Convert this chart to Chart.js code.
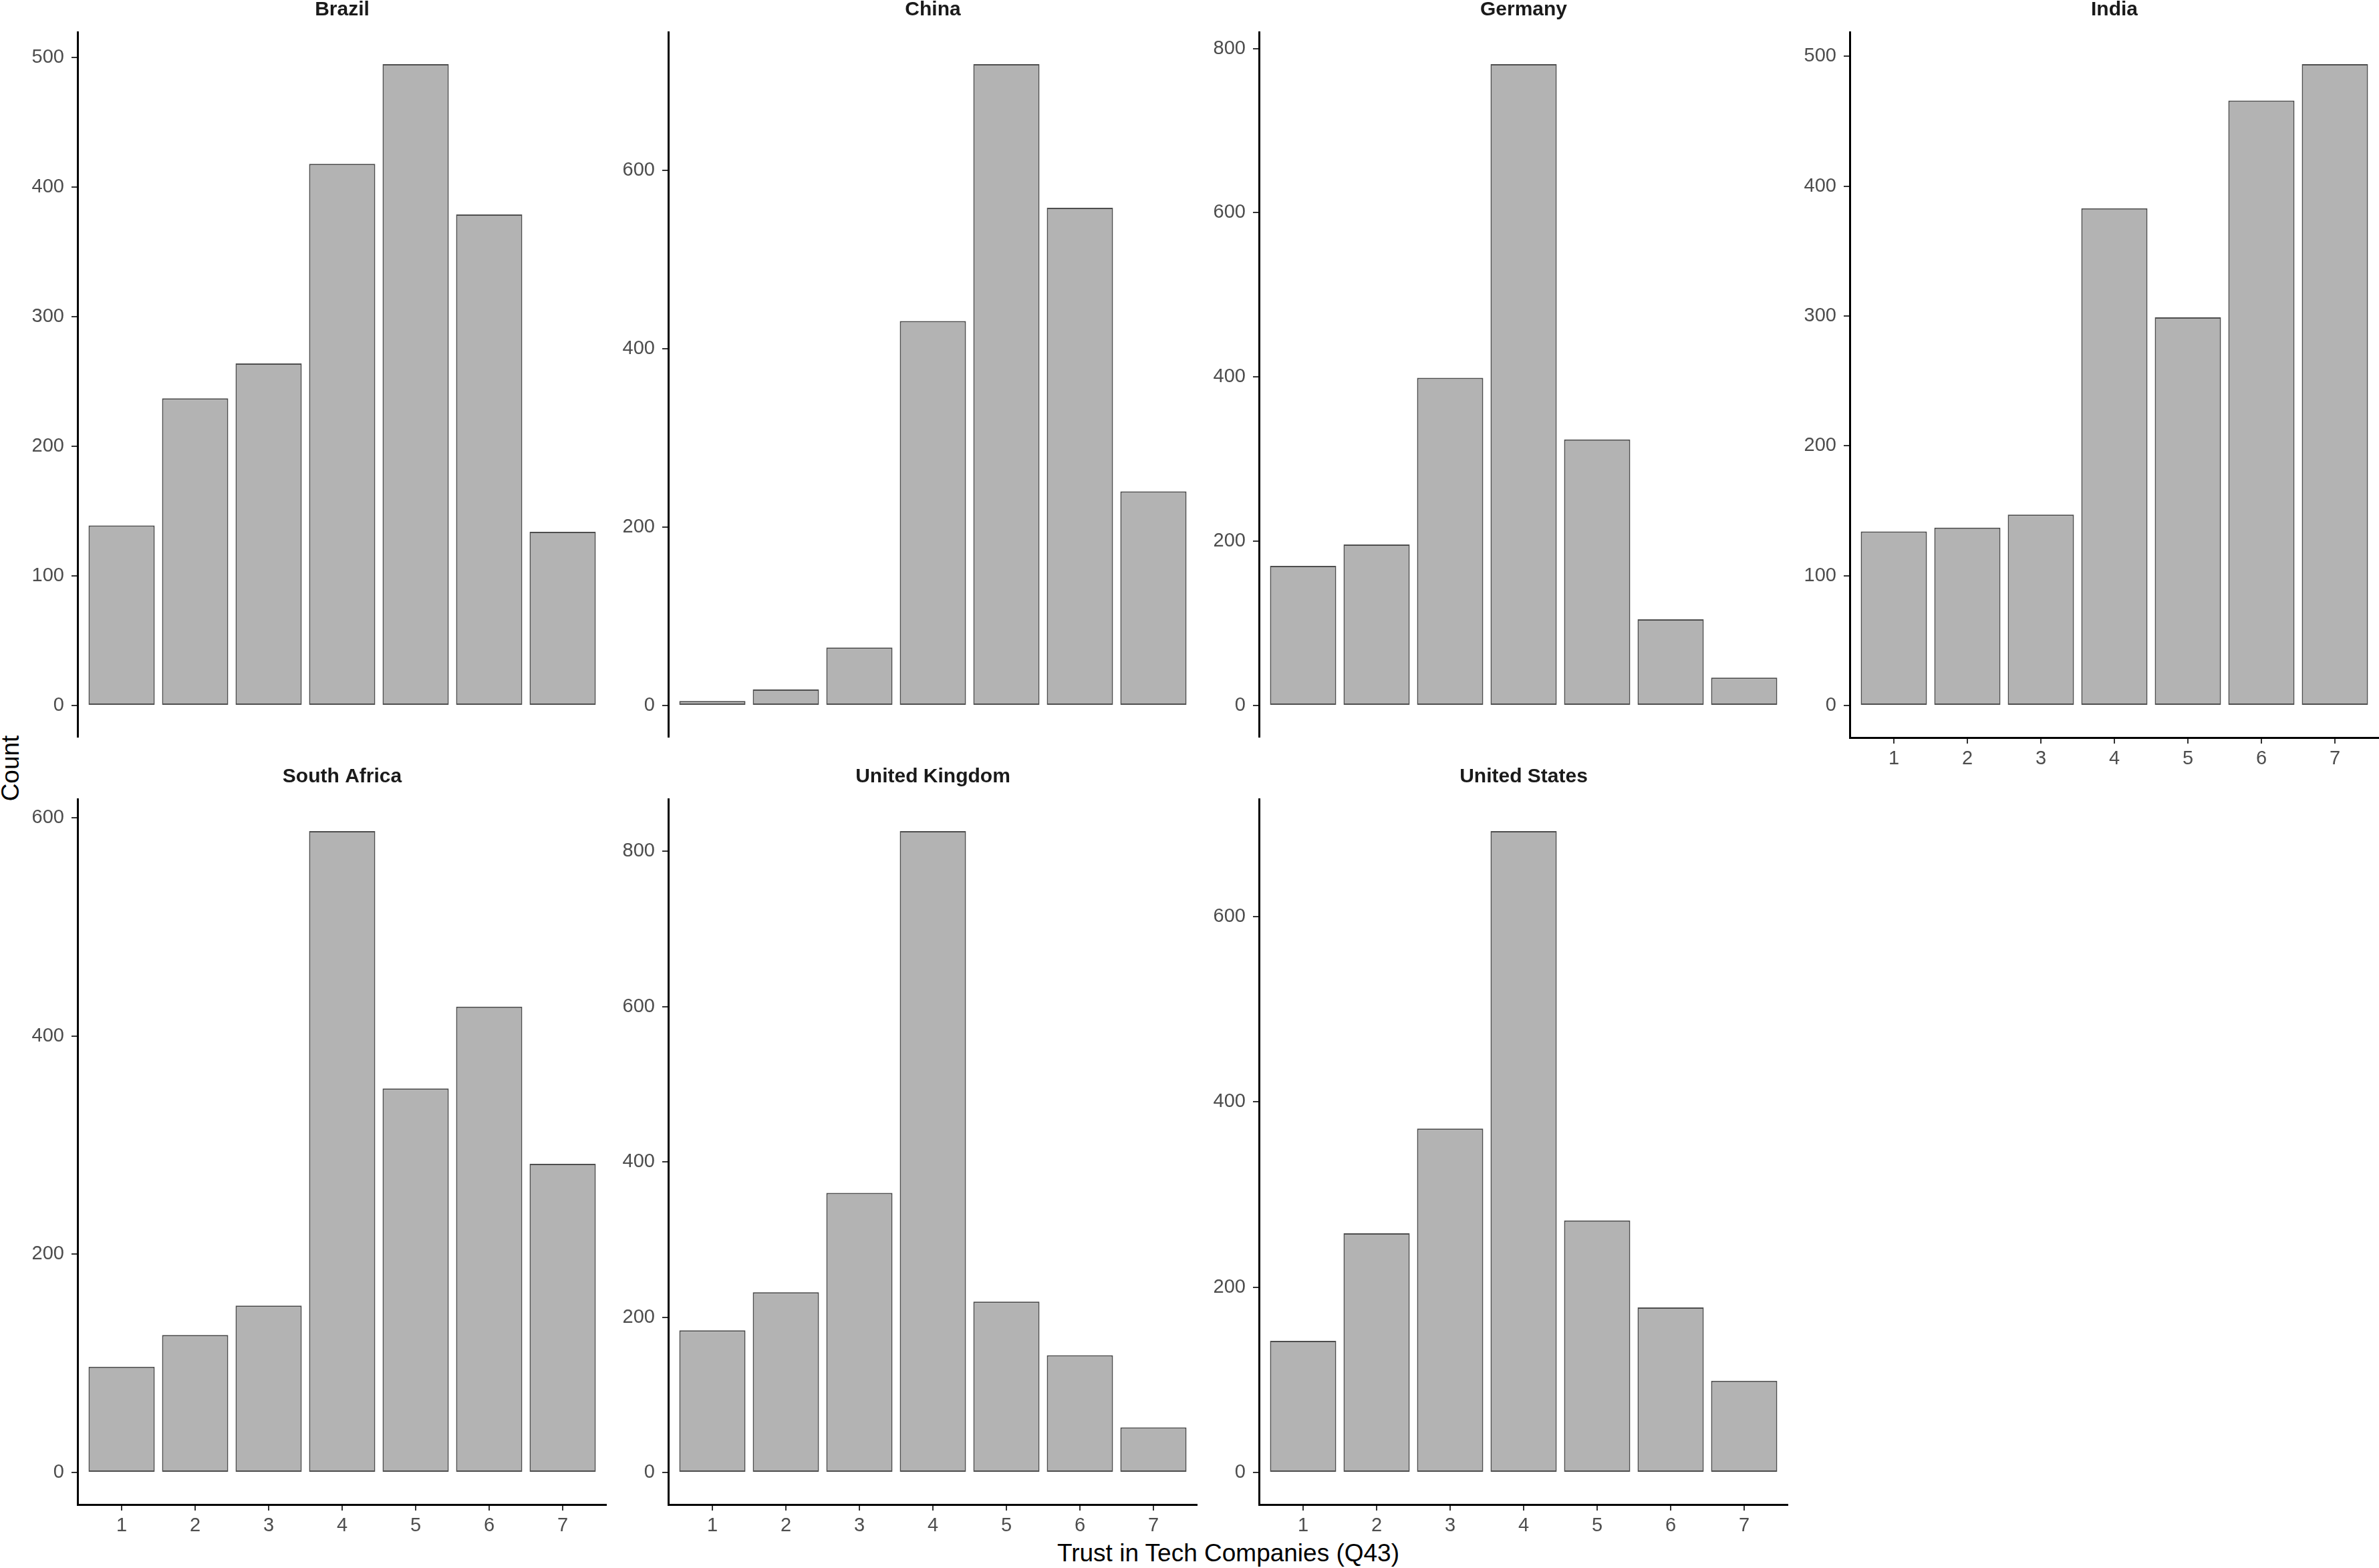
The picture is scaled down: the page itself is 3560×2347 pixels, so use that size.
<!DOCTYPE html>
<html>
<head>
<meta charset="utf-8">
<style>
  html, body { margin: 0; padding: 0; background: #fff; }
  #page { position: relative; width: 3560px; height: 2347px; overflow: hidden; background: #fff; }
  canvas { position: absolute; }
  .axis-title { position: absolute; font-family: "Liberation Sans", Arial, sans-serif; font-size: 37px; line-height: 37px; color: #000; white-space: nowrap; }
</style>
</head>
<body>
<div id="page">
  <div class="axis-title" style="left:1838px; top:2306px; transform: translateX(-50%);">Trust in Tech Companies (Q43)</div>
  <div class="axis-title" style="left:15px; top:1150px; transform: translate(-50%, -50%) rotate(-90deg);">Count</div>
</div>
<script src="https://cdn.jsdelivr.net/npm/chart.js"></script>
<script>
  const categories = ['1', '2', '3', '4', '5', '6', '7']
  const countries = ['Brazil', 'China', 'Germany', 'India', 'South Africa', 'United Kingdom', 'United States']

  const brazil = [139, 237, 264, 418, 495, 379, 134]
  const china = [5, 18, 65, 431, 719, 558, 240]
  const germany = [170, 196, 399, 781, 324, 105, 34]
  const india = [134, 137, 147, 383, 299, 466, 494]
  const southAfrica = [97, 126, 153, 588, 352, 427, 283]
  const unitedKingdom = [183, 232, 360, 826, 220, 151, 58]
  const unitedStates = [142, 258, 371, 692, 272, 178, 99]

  // y tick labels per panel
  const brazilTicks = [0, 100, 200, 300, 400, 500]
  const chinaTicks = [0, 200, 400, 600]
  const germanyTicks = [0, 200, 400, 600, 800]
  const indiaTicks = [0, 100, 200, 300, 400, 500]
  const southAfricaTicks = [0, 200, 400, 600]
  const unitedKingdomTicks = [0, 200, 400, 600, 800]
  const unitedStatesTicks = [0, 200, 400, 600]

  const series = [brazil, china, germany, india, southAfrica, unitedKingdom, unitedStates]
  const yTicks = [brazilTicks, chinaTicks, germanyTicks, indiaTicks, southAfricaTicks, unitedKingdomTicks, unitedStatesTicks]

  // facet grid geometry (px)
  const colLeft = [116, 1000, 1884, 2768]
  const rowTop = [48, 1196]
  const panelW = 792
  const panelH = 1056
  const yAxisW = 110
  const titleH = 48
  const xAxisH = 60

  const font = '"Liberation Sans", Arial, sans-serif'
  const page = document.getElementById('page')

  countries.forEach((name, i) => {
    const col = i % 4
    const row = Math.floor(i / 4)
    // x axis only at the bottom of each column
    const showX = row === 1 || col === 3
    const values = series[i]
    const top = Math.max(...values)

    const canvas = document.createElement('canvas')
    canvas.width = yAxisW + panelW
    canvas.height = titleH + panelH + (showX ? xAxisH : 0)
    canvas.style.left = (colLeft[col] - yAxisW) + 'px'
    canvas.style.top = (rowTop[row] - titleH) + 'px'
    page.appendChild(canvas)

    new Chart(canvas.getContext('2d'), {
      type: 'bar',
      data: {
        datasets: [{
          data: values.map((v, k) => ({ x: Number(categories[k]), y: v })),
          backgroundColor: '#B3B3B3',
          borderColor: '#4D4D4D',
          borderWidth: 2,
          borderSkipped: false,
          categoryPercentage: 1,
          barPercentage: 0.9
        }]
      },
      options: {
        responsive: false,
        animation: false,
        layout: { padding: 0 },
        plugins: {
          legend: { display: false },
          tooltip: { enabled: false },
          title: {
            display: true,
            text: name,
            fullSize: false,
            color: '#1A1A1A',
            font: { family: font, size: 30, weight: 'bold', lineHeight: 1 },
            padding: { top: 0, bottom: 18 }
          }
        },
        scales: {
          x: {
            type: 'linear',
            display: showX,
            offset: false,
            min: 0.4,
            max: 7.6,
            afterBuildTicks: (s) => { s.ticks = categories.map(c => ({ value: Number(c) })) },
            afterFit: (s) => {
              s.height = showX ? xAxisH : 0
              s.paddingLeft = 0
              s.paddingRight = 0
            },
            border: { display: true, color: '#000', width: 3 },
            grid: { display: true, offset: false, drawOnChartArea: false, drawTicks: true, tickLength: 9, color: '#333333', lineWidth: 2 },
            ticks: {
              padding: 6,
              color: '#4D4D4D',
              font: { family: font, size: 29, lineHeight: 1.2 },
              maxRotation: 0,
              autoSkip: false,
              callback: (v) => categories[v - 1]
            }
          },
          y: {
            min: -0.05 * top,
            max: 1.05 * top,
            afterBuildTicks: (s) => { s.ticks = yTicks[i].map(v => ({ value: v })) },
            afterFit: (s) => {
              s.width = yAxisW
              s.paddingTop = 0
              s.paddingBottom = 0
            },
            border: { display: true, color: '#000', width: 3 },
            grid: { display: true, drawOnChartArea: false, drawTicks: true, tickLength: 9, color: '#333333', lineWidth: 2 },
            ticks: {
              padding: 11,
              color: '#4D4D4D',
              autoSkip: false,
              font: { family: font, size: 29, lineHeight: 1.2 }
            }
          }
        }
      }
    })
  })
</script>
</body>
</html>
